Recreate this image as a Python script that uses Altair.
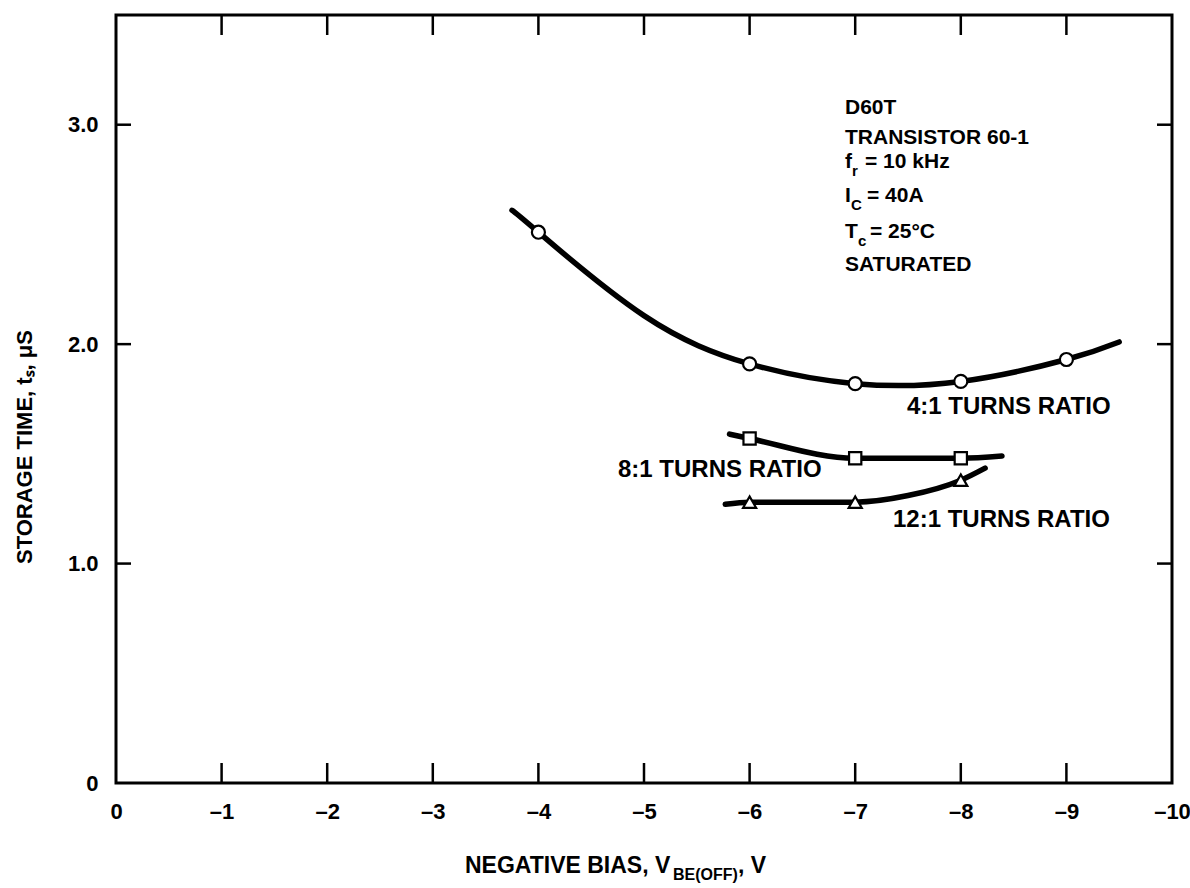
import altair as alt
import pandas as pd

# ---------------- data ----------------
# measured points (markers)
bias_41 = [-4, -6, -7, -8, -9]
time_41 = [2.51, 1.91, 1.82, 1.83, 1.93]
bias_81 = [-6, -7, -8]
time_81 = [1.57, 1.48, 1.48]
bias_121 = [-6, -7, -8]
time_121 = [1.28, 1.28, 1.38]

# hand-drawn curves
curve_bias_41 = [-3.75, -4.0, -5.0, -6.0, -7.0, -8.0, -9.0, -9.5]
curve_time_41 = [2.61, 2.51, 2.13, 1.91, 1.82, 1.83, 1.93, 2.01]
curve_bias_81 = [-5.81, -6.0, -7.0, -8.0, -8.39]
curve_time_81 = [1.59, 1.57, 1.48, 1.48, 1.49]
curve_bias_121 = [-5.77, -6.0, -7.0, -7.5, -8.0, -8.23]
curve_time_121 = [1.27, 1.28, 1.28, 1.31, 1.38, 1.435]

x_ticks = [0, -1, -2, -3, -4, -5, -6, -7, -8, -9, -10]
y_ticks = [0, 1, 2, 3]
inner_x_ticks = [-1, -2, -3, -4, -5, -6, -7, -8, -9]
inner_y_ticks = [1, 2, 3]

series_labels = ["4:1 TURNS RATIO", "8:1 TURNS RATIO", "12:1 TURNS RATIO"]
note_plain = ["D60T", "TRANSISTOR 60-1", "SATURATED"]
note_sym = ["f", "I", "T"]
note_sub = ["r", "C", "c"]
note_rest = ["= 10 kHz", "= 40A", "= 25\u00b0C"]
x_title_parts = ["NEGATIVE BIAS, V", "BE(OFF)", ", V"]
y_title = "STORAGE TIME, t\u209b, \u03bcS"

# ---------------- layout (pixels inside the plot area) ----------------
W, H = 1056, 768
FONT = "Liberation Sans"

xs = alt.Scale(domain=[0, -10], nice=False, zero=False)
ys = alt.Scale(domain=[0, 3.5], nice=False, zero=True)

x_axis = alt.Axis(values=x_ticks, labelExpr="datum.value == 0 ? '0' : '\u2013' + abs(datum.value)",
                  domain=False, ticks=False, grid=False, title=None,
                  labelFont=FONT, labelFontWeight="bold", labelFontSize=22,
                  labelColor="black", labelPadding=18, labelFlush=False)
y_axis = alt.Axis(values=y_ticks, labelExpr="datum.value == 0 ? '0' : format(datum.value, '.1f')",
                  domain=False, ticks=False, grid=False, title=None,
                  labelFont=FONT, labelFontWeight="bold", labelFontSize=22,
                  labelColor="black", labelPadding=18)


def curve(bx, ty, interp):
    df = pd.DataFrame({"bias": bx, "time": ty, "idx": list(range(len(bx)))})
    return alt.Chart(df).mark_line(color="black", strokeWidth=5.5, interpolate=interp,
                                   strokeCap="round").encode(
        x=alt.X("bias:Q", scale=xs, axis=x_axis),
        y=alt.Y("time:Q", scale=ys, axis=y_axis),
        order=alt.Order("idx:Q"),
    )


def markers(bx, ty, shape, size):
    df = pd.DataFrame({"bias": bx, "time": ty})
    return alt.Chart(df).mark_point(shape=shape, filled=True, fill="white", stroke="black",
                                    strokeWidth=2.2, size=size, opacity=1).encode(
        x=alt.X("bias:Q", scale=xs),
        y=alt.Y("time:Q", scale=ys),
    )


def text_px(txt, px, py, size, align="left", angle=0, baseline="middle"):
    return alt.Chart(pd.DataFrame({"t": [txt]})).mark_text(
        font=FONT, fontWeight="bold", fontSize=size, color="black",
        align=align, baseline=baseline, angle=angle,
    ).encode(text="t:N", x=alt.value(px), y=alt.value(py))


layers = []
layers.append(curve(curve_bias_41, curve_time_41, "natural"))
layers.append(curve(curve_bias_81, curve_time_81, "monotone"))
layers.append(curve(curve_bias_121, curve_time_121, "monotone"))
layers.append(markers(bias_41, time_41, "circle", 170))
layers.append(markers(bias_81, time_81, "square", 150))
layers.append(markers(bias_121, time_121, "triangle-up", 170))

# inward ticks on all four sides
tx = pd.DataFrame({"bias": inner_x_ticks})
ty = pd.DataFrame({"time": inner_y_ticks})
layers.append(alt.Chart(tx).mark_rule(color="black", strokeWidth=2.5).encode(
    x=alt.X("bias:Q", scale=xs), y=alt.value(H), y2=alt.value(H - 20)))
layers.append(alt.Chart(tx).mark_rule(color="black", strokeWidth=2.5).encode(
    x=alt.X("bias:Q", scale=xs), y=alt.value(0), y2=alt.value(20)))
layers.append(alt.Chart(ty).mark_rule(color="black", strokeWidth=2.5).encode(
    y=alt.Y("time:Q", scale=ys), x=alt.value(0), x2=alt.value(15)))
layers.append(alt.Chart(ty).mark_rule(color="black", strokeWidth=2.5).encode(
    y=alt.Y("time:Q", scale=ys), x=alt.value(W - 15), x2=alt.value(W)))

# series labels
layers.append(text_px(series_labels[0], 791, 392, 24))
layers.append(text_px(series_labels[1], 502, 455, 24))
layers.append(text_px(series_labels[2], 777, 505, 24))

# note block
NX = 729
layers.append(text_px(note_plain[0], NX, 93, 21))
layers.append(text_px(note_plain[1], NX, 123, 21))
layers.append(text_px(note_plain[2], NX, 250, 21))
sym_y = [147, 181, 217]
sub_dx = [7, 6, 13]
rest_dx = [20, 22, 25]
for s, sb, r, py, sdx, rdx in zip(note_sym, note_sub, note_rest, sym_y, sub_dx, rest_dx):
    layers.append(text_px(s, NX, py, 21))
    layers.append(text_px(sb, NX + sdx, py + 9, 15))
    layers.append(text_px(r, NX + rdx, py, 21))

# axis titles
layers.append(text_px(x_title_parts[0], 349, 851, 23))
layers.append(text_px(x_title_parts[1], 557, 860, 16))
layers.append(text_px(x_title_parts[2], 622, 851, 23))
layers.append(text_px(y_title, -91, 432, 22, align="center", angle=270))

chart = alt.layer(*layers).properties(
    width=W, height=H,
    autosize=alt.AutoSizeParams(type="none"),
    padding={"left": 116, "top": 15, "right": 18, "bottom": 105},
    background="white",
).configure_view(stroke="black", strokeWidth=3)

chart.save("out.html", embed_options={"renderer": "svg", "actions": False})
